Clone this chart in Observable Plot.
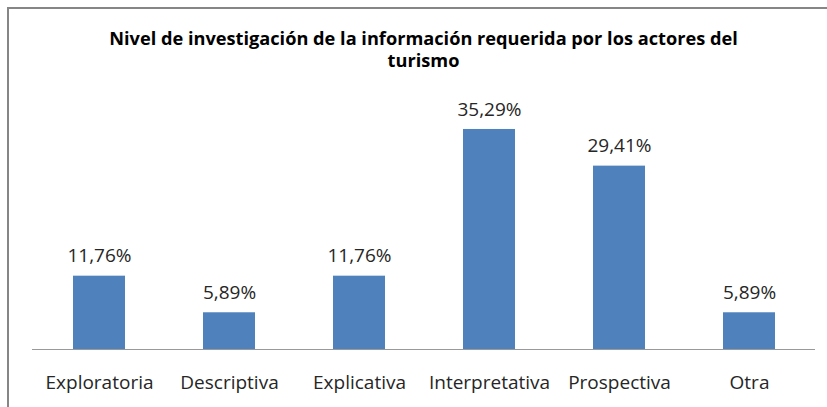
<!DOCTYPE html>
<html>
<head>
<meta charset="utf-8">
<script src="https://cdn.jsdelivr.net/npm/d3@7"></script>
<script src="https://cdn.jsdelivr.net/npm/@observablehq/plot@0.6"></script>
<style>
  html, body { margin: 0; padding: 0; background: #fff; overflow: hidden; }
  #wrap { position: relative; width: 827px; height: 407px; overflow: hidden; }
  #frame { position: absolute; left: 7px; top: 7px; width: 1200px; height: 1200px; border: 2px solid #868686; box-sizing: border-box; }
  #title { position: absolute; left: 0; width: 847px; top: 26.5px; text-align: center;
           font-family: 'Open Sans', sans-serif; font-weight: bold; font-size: 18.2px; line-height: 22.5px; color: #000; }
  #chart { position: absolute; left: 0; top: 0; }
</style>
</head>
<body>
<div id="wrap">
  <div id="frame"></div>
  <div id="chart"></div>
  <div id="title">Nivel de investigación de la información requerida por los actores del<br>turismo</div>
</div>
<script>
const categories = ["Exploratoria", "Descriptiva", "Explicativa", "Interpretativa", "Prospectiva", "Otra"];
const values = [11.76, 5.89, 11.76, 35.29, 29.41, 5.89];

const data = categories.map((c, i) => ({ category: c, value: values[i] }));
const fmt = v => v.toFixed(2).replace(".", ",") + "%";

const chart = Plot.plot({
  width: 827,
  height: 407,
  marginLeft: 32,
  marginRight: 12,
  marginTop: 99.6,
  marginBottom: 58,
  style: { fontFamily: "'Open Sans', sans-serif", background: "transparent", color: "#262626" },
  x: { domain: categories, paddingInner: 0.6, paddingOuter: 0.3, label: null, axis: null },
  y: { domain: [0, 40], axis: null },
  marks: [
    Plot.barY(data, { x: "category", y: "value", fill: "#4F81BD" }),
    Plot.ruleY([0], { stroke: "#999999", strokeWidth: 1.2 }),
    Plot.text(data, { x: "category", y: "value", text: d => fmt(d.value), dy: -20, lineAnchor: "middle",
                      fontSize: 19, fill: "#262626" }),
    Plot.axisX({ tickSize: 0, tickPadding: 25.5, fontSize: 19, label: null, fill: "#262626" })
  ]
});
document.getElementById("chart").appendChild(chart);
</script>
</body>
</html>
